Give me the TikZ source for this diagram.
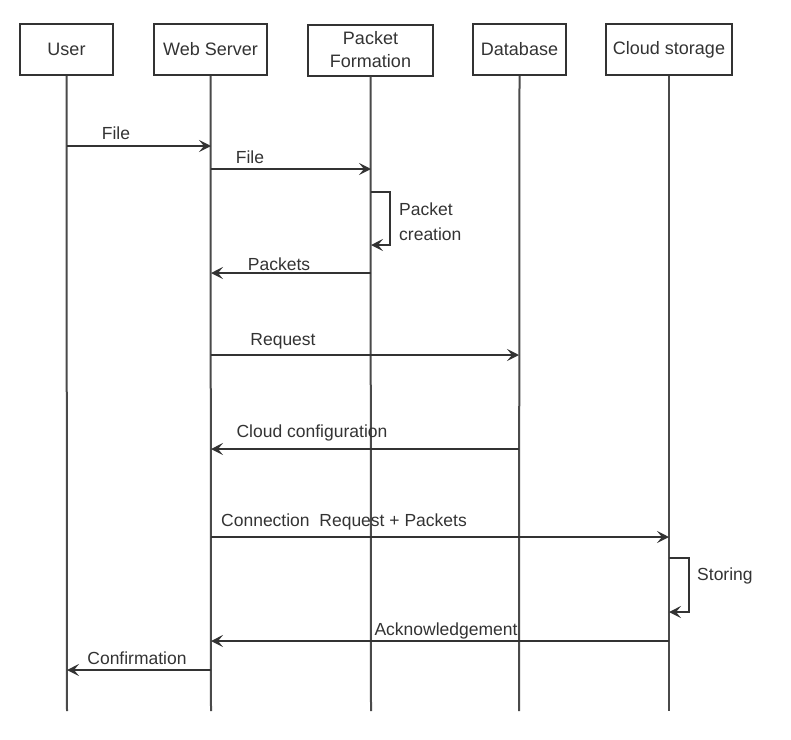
\documentclass[tikz,border=0pt]{standalone}
\usepackage{fontspec}
\setmainfont{Liberation Sans}
\usetikzlibrary{arrows.meta}
\definecolor{ink}{HTML}{333333}
\definecolor{lline}{HTML}{4A4A4A}
\tikzset{
  actor/.style={draw=ink, line width=2pt, fill=white, minimum height=51pt, inner sep=2pt, align=center, text=ink, font=\fontsize{18}{20}\selectfont},
  life/.style={draw=lline, line width=2pt},
  msg/.style={draw=ink, line width=2pt, -{Stealth[length=12pt,width=12pt,inset=5pt]}},
  lbl/.style={text=ink, font=\fontsize{17.5}{21}\selectfont, inner sep=0pt, align=left}
}
\begin{document}
\begin{tikzpicture}[x=1pt,y=-1pt]
\useasboundingbox (0,0) rectangle (791,739);
% actors
\node[actor, minimum width=93pt] (user) at (66.5,49.5) {User};
\node[actor, minimum width=113pt] (web) at (210.5,49.5) {Web Server};
\node[actor, minimum width=125pt] (pkt) at (370.5,50) {Packet\\[3pt]Formation};
\node[actor, minimum width=93pt] (db) at (519.5,49.5) {Database};
\node[actor, minimum width=126pt] (cloud) at (669,49.5) {Cloud storage};
% lifeline ends
\coordinate (userE) at (67,711);
\coordinate (webE) at (211,711);
\coordinate (pktE) at (371,711);
\coordinate (dbE) at (519,711);
\coordinate (cloudE) at (669,711);
\draw[life] (user.south) -- (userE);
\draw[life] (web.south) -- (webE);
\draw[life] (pkt.south) -- (pktE);
\draw[life] (db.south) -- (dbE);
\draw[life] (cloud.south) -- (cloudE);
% message endpoints
\coordinate (m1a) at (67,146);  \coordinate (m1b) at (211,146);
\coordinate (m2a) at (211,169); \coordinate (m2b) at (371,169);
\coordinate (s1a) at (371,192); \coordinate (s1b) at (371,245);
\coordinate (m3a) at (371,273); \coordinate (m3b) at (211,273);
\coordinate (m4a) at (211,355); \coordinate (m4b) at (519,355);
\coordinate (m5a) at (519,449); \coordinate (m5b) at (211,449);
\coordinate (m6a) at (211,537); \coordinate (m6b) at (669,537);
\coordinate (s2a) at (669,558); \coordinate (s2b) at (669,612);
\coordinate (m7a) at (669,641); \coordinate (m7b) at (211,641);
\coordinate (m8a) at (211,670); \coordinate (m8b) at (67,670);
% messages
\draw[msg] (m1a) -- (m1b);
\draw[msg] (m2a) -- (m2b);
\draw[msg] (s1a) -- ++(19,0) |- (s1b);
\draw[msg] (m3a) -- (m3b);
\draw[msg] (m4a) -- (m4b);
\draw[msg] (m5a) -- (m5b);
\draw[msg] (m6a) -- (m6b);
\draw[msg] (s2a) -- ++(20,0) |- (s2b);
\draw[msg] (m7a) -- (m7b);
\draw[msg] (m8a) -- (m8b);
% labels
\node[lbl] (l1) at (116,133) {File};
\node[lbl] (l2) at (250,157) {File};
\node[lbl, anchor=west] (l3) at (399,222) {Packet\\[4pt]creation};
\node[lbl] (l4) at (279,264) {Packets};
\node[lbl] (l5) at (283,341) {Request};
\node[lbl] (l6) at (312,433) {Cloud configuration};
\node[lbl] (l7) at (344,522) {Connection~ Request + Packets};
\node[lbl, anchor=west] (l8) at (697,576) {Storing};
\node[lbl] (l9) at (446,631) {Acknowledgement};
\node[lbl] (l10) at (137,658) {Confirmation};
\end{tikzpicture}
\end{document}
